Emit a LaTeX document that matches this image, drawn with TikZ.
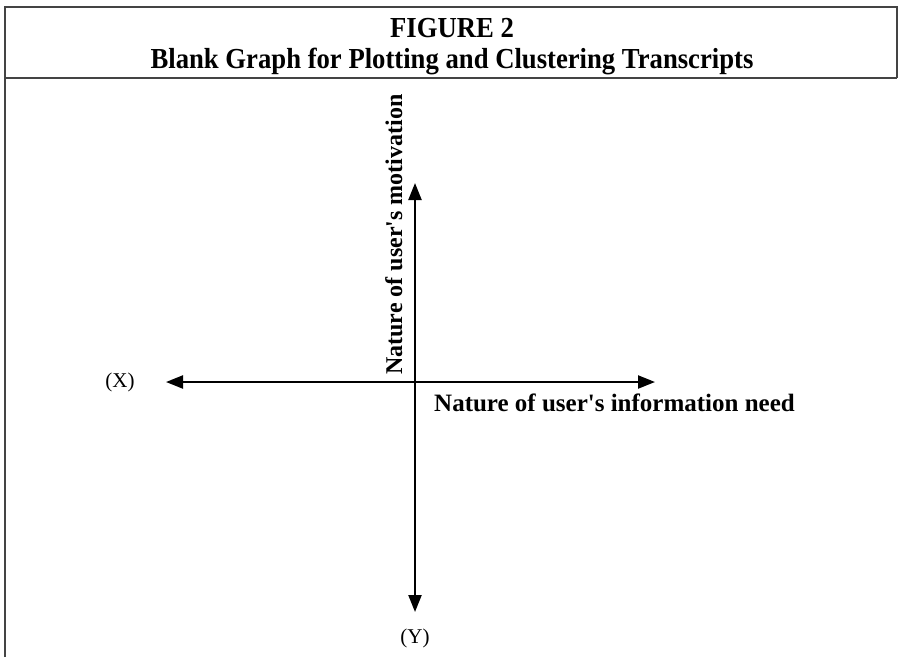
\documentclass[tikz,border=0pt]{standalone}
\usepackage{fontspec}
\setmainfont{Liberation Serif}
\newfontfamily\titlefont[FakeStretch=0.92]{Liberation Serif}
\usetikzlibrary{arrows.meta}
\definecolor{framegray}{HTML}{444444}

\begin{document}
\begin{tikzpicture}[x=1pt,y=-1pt,
                    frame/.style={draw=framegray,line width=1.6pt},
                    axis/.style={line width=2.2pt,-{Triangle[length=17pt,width=13pt]}},
                    title/.style={font=\titlefont\bfseries\fontsize{29}{31}\selectfont,inner sep=0pt},
                    axislabel/.style={font=\bfseries\fontsize{24}{28}\selectfont,inner sep=0pt},
                    endlabel/.style={font=\fontsize{21}{24}\selectfont,inner sep=0pt}]
\useasboundingbox (0,0) rectangle (899,657);
% frame
\draw[frame] (5,657) -- (5,7) -- (897,7) -- (897,78);
\draw[frame] (5,78) -- (897,78);
% title
\node[title,anchor=base] (figno) at (452,37) {FIGURE 2};
\node[title,anchor=base] (caption) at (452,68) {Blank Graph for Plotting and Clustering Transcripts};
% axes
\coordinate (origin) at (415,382);
\coordinate (xleft) at (166,382);
\coordinate (xright) at (655,382);
\coordinate (ytop) at (415,183);
\coordinate (ybottom) at (415,612);
\draw[axis] (origin) -- (xleft);
\draw[axis] (origin) -- (xright);
\draw[axis] (origin) -- (ytop);
\draw[axis] (origin) -- (ybottom);
% labels
\node[endlabel] (xlabel) at (120,382) {(X)};
\node[endlabel] (ylabel) at (415,638) {(Y)};
\node[axislabel,font=\bfseries\fontsize{25}{28}\selectfont,anchor=base west] (need) at (434,411) {Nature of user\textquotesingle s information need};
\node[axislabel,anchor=base west,rotate=90] (motive) at (402,375) {Nature of user\textquotesingle s motivation};
\end{tikzpicture}
\end{document}
